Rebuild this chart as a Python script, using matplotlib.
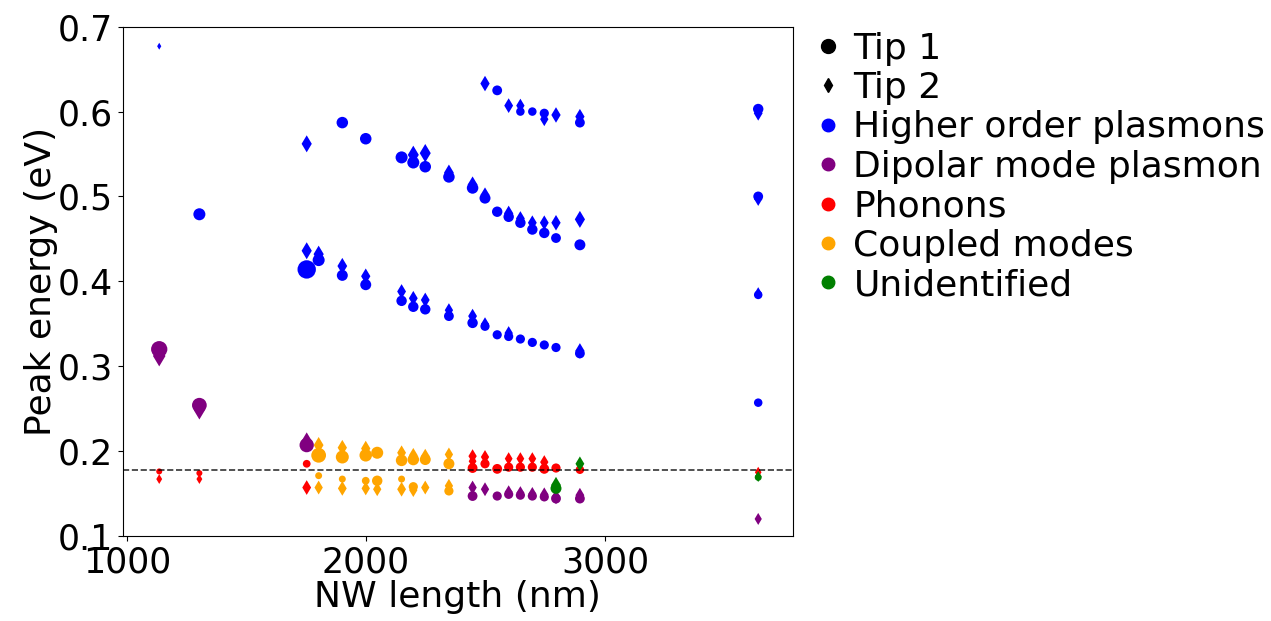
import matplotlib
matplotlib.use("Agg")
import matplotlib.pyplot as plt
from matplotlib.lines import Line2D

# Higher order plasmons
hop_t1_x = [1303, 1901, 1999, 2149, 2198, 2248, 2347, 2446, 2498, 2549, 2549, 2597,
            2646, 2646, 2696, 2696, 2746, 2746, 2795, 2895, 2895, 3641, 3641, 3641,
            1752, 1802, 1901, 1999, 2149, 2198, 2248, 2347, 2446, 2498, 2549, 2597,
            2646, 2696, 2746, 2795, 2895, 3641]
hop_t1_y = [0.479, 0.587, 0.568, 0.546, 0.540, 0.535, 0.523, 0.510, 0.498, 0.625, 0.482, 0.476,
            0.600, 0.469, 0.600, 0.461, 0.598, 0.457, 0.451, 0.587, 0.443, 0.603, 0.500, 0.257,
            0.414, 0.425, 0.407, 0.396, 0.377, 0.370, 0.367, 0.359, 0.351, 0.347, 0.337, 0.335,
            0.332, 0.328, 0.325, 0.322, 0.315, 0.384]
hop_t1_s = [60, 55, 55, 60, 60, 55, 55, 55, 50, 40, 45, 45,
            30, 45, 30, 45, 35, 45, 40, 40, 50, 45, 40, 30,
            140, 60, 50, 50, 45, 45, 45, 40, 45, 35, 35, 35,
            35, 35, 35, 35, 40, 30]
hop_t2_x = [1135, 1752, 1752, 1802, 1901, 1999, 2149, 2198, 2198, 2248, 2248, 2347, 2347,
            2446, 2446, 2498, 2498, 2498, 2597, 2597, 2597, 2646, 2646, 2696, 2746, 2746,
            2795, 2795, 2895, 2895, 2895, 3641, 3641, 3641]
hop_t2_y = [0.677, 0.562, 0.436, 0.432, 0.418, 0.406, 0.388, 0.549, 0.380, 0.551, 0.378, 0.528, 0.366,
            0.514, 0.359, 0.633, 0.502, 0.350, 0.607, 0.480, 0.339, 0.607, 0.474, 0.469, 0.591, 0.469,
            0.596, 0.469, 0.594, 0.473, 0.318, 0.598, 0.497, 0.386]
hop_t2_s = [10, 60, 60, 60, 55, 50, 45, 70, 45, 70, 45, 55, 40,
            55, 45, 50, 45, 35, 45, 50, 40, 40, 45, 45, 40, 45,
            50, 50, 50, 60, 50, 45, 40, 30]

# Dipolar mode plasmon
dip_t1_x = [1135, 1303, 1752, 2446, 2549, 2597, 2646, 2696, 2746, 2795, 2895]
dip_t1_y = [0.320, 0.254, 0.207, 0.147, 0.147, 0.149, 0.148, 0.147, 0.146, 0.144, 0.144]
dip_t1_s = [110, 90, 85, 40, 35, 35, 35, 35, 35, 40, 40]
dip_t2_x = [1135, 1303, 1752, 2446, 2498, 2597, 2646, 2696, 2746, 2795, 2895, 3641]
dip_t2_y = [0.312, 0.248, 0.212, 0.157, 0.155, 0.152, 0.151, 0.150, 0.149, 0.146, 0.148, 0.120]
dip_t2_s = [90, 70, 60, 40, 40, 35, 35, 35, 40, 45, 45, 30]

# Phonons
pho_t1_x = [1135, 1303, 1752, 2446, 2498, 2549, 2597, 2646, 2696, 2746, 2795, 2895]
pho_t1_y = [0.176, 0.174, 0.185, 0.180, 0.185, 0.179, 0.181, 0.181, 0.181, 0.179, 0.180, 0.178]
pho_t1_s = [15, 15, 25, 40, 35, 40, 35, 35, 35, 40, 35, 30]
pho_t2_x = [1135, 1303, 1752, 2446, 2446, 2498, 2597, 2646, 2696, 2746, 3641]
pho_t2_y = [0.167, 0.167, 0.157, 0.194, 0.188, 0.193, 0.191, 0.191, 0.191, 0.187, 0.175]
pho_t2_s = [20, 20, 45, 40, 35, 40, 35, 35, 35, 40, 25]

# Coupled modes
cou_t1_x = [1802, 1901, 1999, 2047, 2149, 2198, 2248, 2347,
            1802, 1901, 1999, 2047, 2149, 2198, 2347]
cou_t1_y = [0.195, 0.193, 0.195, 0.198, 0.189, 0.190, 0.190, 0.185,
            0.171, 0.167, 0.165, 0.165, 0.167, 0.158, 0.153]
cou_t1_s = [90, 70, 65, 60, 55, 55, 50, 50,
            20, 20, 25, 45, 20, 35, 35]
cou_t2_x = [1802, 1901, 1999, 2149, 2198, 2248, 2347,
            1802, 1901, 1999, 2047, 2149, 2198, 2248, 2347]
cou_t2_y = [0.207, 0.204, 0.203, 0.198, 0.195, 0.194, 0.196,
            0.157, 0.156, 0.156, 0.155, 0.155, 0.154, 0.157, 0.159]
cou_t2_s = [55, 50, 50, 45, 45, 45, 40,
            40, 45, 40, 40, 45, 40, 40, 40]

# Unidentified
uni_t1_x = [2795, 3641]
uni_t1_y = [0.156, 0.169]
uni_t1_s = [50, 20]
uni_t2_x = [2795, 2895, 3641]
uni_t2_y = [0.160, 0.185, 0.170]
uni_t2_s = [55, 45, 25]

phonon_line = 0.178

series = [
    (hop_t1_x, hop_t1_y, hop_t1_s, hop_t2_x, hop_t2_y, hop_t2_s, 'blue', 'Higher order plasmons'),
    (dip_t1_x, dip_t1_y, dip_t1_s, dip_t2_x, dip_t2_y, dip_t2_s, 'purple', 'Dipolar mode plasmon'),
    (pho_t1_x, pho_t1_y, pho_t1_s, pho_t2_x, pho_t2_y, pho_t2_s, 'red', 'Phonons'),
    (cou_t1_x, cou_t1_y, cou_t1_s, cou_t2_x, cou_t2_y, cou_t2_s, 'orange', 'Coupled modes'),
    (uni_t1_x, uni_t1_y, uni_t1_s, uni_t2_x, uni_t2_y, uni_t2_s, 'green', 'Unidentified'),
]

k = 1.25  # marker area scale
fig = plt.figure(figsize=(12.71, 6.21), dpi=100)
ax = fig.add_axes([0.0965, 0.137, 0.5275, 0.82])

for x1, y1, s1, x2, y2, s2, c, lab in series:
    ax.scatter(x1, y1, s=[v * k for v in s1], c=c, marker='o', linewidths=0)
    ax.scatter(x2, y2, s=[v * k for v in s2], c=c, marker='d', linewidths=0)

ax.axhline(phonon_line, color='k', ls='--', lw=1.2, alpha=0.8)

ax.set_xlim(982, 3787)
ax.set_ylim(0.1, 0.7)
ax.set_xticks([1000, 2000, 3000])
ax.set_yticks([0.1, 0.2, 0.3, 0.4, 0.5, 0.6, 0.7])
ax.tick_params(labelsize=25)
ax.set_xlabel('NW length (nm)', fontsize=26, labelpad=0)
ax.set_ylabel('Peak energy (eV)', fontsize=26, labelpad=0)

handles = [Line2D([], [], ls='none', marker='o', color='k', markersize=10),
           Line2D([], [], ls='none', marker='d', color='k', markersize=7)]
labels = ['Tip 1', 'Tip 2']
for s in series:
    handles.append(Line2D([], [], ls='none', marker='o', color=s[6], markersize=9))
    labels.append(s[7])
ax.legend(handles, labels, loc='upper left', bbox_to_anchor=(1.0, 1.04), frameon=False,
          fontsize=26, handlelength=0.55, handletextpad=0.42, labelspacing=0.15,
          borderaxespad=0.3)

fig.savefig('out.png', dpi=100)
